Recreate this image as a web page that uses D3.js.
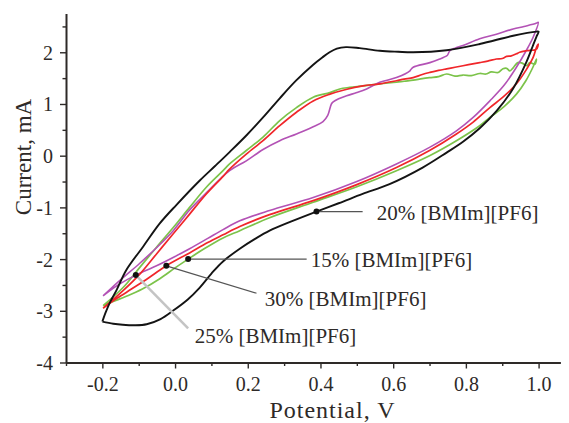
<!DOCTYPE html>
<html>
<head>
<meta charset="utf-8">
<script src="https://cdn.jsdelivr.net/npm/d3@7"></script>
<style>
  html, body { margin: 0; padding: 0; background: #fff; }
  svg { display: block; font-family: "Liberation Serif", "Times New Roman", serif; }
</style>
</head>
<body>
<svg id="chart" width="569" height="423"></svg>
<script>
// Cyclic voltammograms, [potential V, current mA], forward scan then reverse scan.
const cv20 = [
  [-0.200,-3.21],[-0.170,-3.25],[-0.144,-3.27],[-0.110,-3.28],[-0.078,-3.26],[-0.040,-3.16],
  [-0.006,-3.00],[0.035,-2.78],[0.068,-2.55],[0.100,-2.28],[0.131,-2.05],[0.178,-1.80],
  [0.220,-1.61],[0.260,-1.45],[0.320,-1.27],[0.389,-1.08],[0.450,-0.92],[0.516,-0.74],
  [0.590,-0.55],[0.681,-0.23],[0.747,0.06],[0.792,0.27],[0.838,0.53],[0.884,0.86],
  [0.930,1.30],[0.967,1.82],[0.985,2.14],[0.994,2.30],[1.000,2.40],
  [0.994,2.40],[0.930,2.32],[0.838,2.16],[0.747,2.04],[0.655,2.00],[0.614,2.01],
  [0.563,2.03],[0.508,2.08],[0.470,2.10],[0.445,2.07],[0.425,2.00],[0.405,1.90],
  [0.380,1.76],[0.334,1.46],[0.288,1.11],[0.242,0.74],[0.196,0.39],[0.150,0.07],
  [0.110,-0.20],[0.068,-0.48],[0.004,-0.95],[-0.042,-1.31],[-0.088,-1.76],[-0.134,-2.21],
  [-0.161,-2.60],[-0.180,-2.85],[-0.192,-3.05],[-0.200,-3.21]
];
const cv15 = [
  [-0.198,-2.90],[-0.170,-2.82],[-0.134,-2.72],[-0.090,-2.58],[-0.042,-2.38],[0.000,-2.17],
  [0.036,-2.00],[0.080,-1.80],[0.132,-1.59],[0.178,-1.45],[0.260,-1.20],[0.380,-0.90],
  [0.500,-0.60],[0.609,-0.29],[0.700,0.00],[0.774,0.29],[0.838,0.58],[0.866,0.74],
  [0.905,0.95],[0.939,1.19],[0.965,1.45],[0.985,1.72],[0.994,1.87],
  [0.990,1.77],[0.976,1.80],[0.967,1.74],[0.955,1.79],[0.943,1.80],[0.930,1.70],
  [0.921,1.64],[0.912,1.69],[0.902,1.68],[0.889,1.61],[0.870,1.62],[0.855,1.58],
  [0.838,1.59],[0.815,1.55],[0.792,1.56],[0.770,1.54],[0.747,1.58],[0.725,1.53],
  [0.701,1.51],[0.680,1.49],[0.655,1.46],[0.630,1.44],[0.609,1.42],[0.563,1.39],
  [0.517,1.35],[0.480,1.32],[0.453,1.29],[0.426,1.22],[0.380,1.13],[0.334,0.93],
  [0.288,0.68],[0.242,0.36],[0.196,0.10],[0.150,-0.16],[0.132,-0.29],[0.086,-0.61],
  [0.040,-1.00],[-0.005,-1.39],[-0.051,-1.77],[-0.097,-2.16],[-0.143,-2.55],[-0.198,-2.90]
];
const cv30 = [
  [-0.198,-2.95],[-0.160,-2.76],[-0.120,-2.58],[-0.080,-2.40],[-0.024,-2.13],[0.040,-1.88],
  [0.090,-1.68],[0.132,-1.53],[0.178,-1.37],[0.260,-1.14],[0.380,-0.87],[0.500,-0.56],
  [0.609,-0.23],[0.700,0.10],[0.774,0.42],[0.820,0.65],[0.866,0.93],[0.905,1.15],
  [0.939,1.39],[0.965,1.65],[0.985,1.90],[0.994,2.09],
  [0.999,2.16],[0.994,2.06],[0.967,2.03],[0.948,2.00],[0.939,1.97],[0.925,1.93],
  [0.912,1.92],[0.900,1.88],[0.884,1.87],[0.860,1.83],[0.838,1.80],[0.815,1.77],
  [0.792,1.74],[0.770,1.71],[0.747,1.68],[0.725,1.65],[0.701,1.61],[0.680,1.57],
  [0.655,1.51],[0.630,1.48],[0.609,1.45],[0.563,1.39],[0.517,1.35],[0.470,1.28],
  [0.426,1.19],[0.380,1.06],[0.334,0.84],[0.288,0.58],[0.242,0.29],[0.196,0.03],
  [0.150,-0.26],[0.132,-0.40],[0.086,-0.74],[0.040,-1.13],[-0.005,-1.51],[-0.051,-1.90],
  [-0.097,-2.29],[-0.143,-2.61],[-0.198,-2.95]
];
const cv25 = [
  [-0.198,-2.71],[-0.152,-2.48],[-0.108,-2.31],[-0.051,-2.13],[0.000,-1.95],[0.040,-1.80],
  [0.090,-1.60],[0.132,-1.43],[0.178,-1.26],[0.260,-1.06],[0.380,-0.81],[0.500,-0.50],
  [0.609,-0.16],[0.700,0.16],[0.774,0.48],[0.820,0.74],[0.866,1.06],[0.905,1.36],
  [0.939,1.71],[0.965,2.02],[0.985,2.29],[0.999,2.58],
  [0.993,2.56],[0.960,2.50],[0.930,2.45],[0.884,2.35],[0.838,2.26],[0.792,2.13],
  [0.770,2.08],[0.756,2.03],[0.750,1.95],[0.747,1.93],[0.728,1.87],[0.701,1.80],
  [0.655,1.71],[0.648,1.66],[0.646,1.64],[0.609,1.51],[0.563,1.42],[0.527,1.29],
  [0.500,1.22],[0.472,1.16],[0.450,1.10],[0.435,1.04],[0.430,1.00],[0.420,0.78],
  [0.407,0.66],[0.380,0.56],[0.334,0.42],[0.288,0.29],[0.242,0.12],[0.196,-0.10],
  [0.150,-0.29],[0.086,-0.72],[0.040,-1.05],[-0.005,-1.45],[-0.051,-1.78],
  [-0.097,-2.08],[-0.143,-2.36],[-0.175,-2.56],[-0.198,-2.71]
];

// Axis ticks
const xTicks = [-0.2, 0.0, 0.2, 0.4, 0.6, 0.8, 1.0];
const xTickLabels = ["-0.2", "0.0", "0.2", "0.4", "0.6", "0.8", "1.0"];
const xMinorTicks = [-0.3, -0.1, 0.1, 0.3, 0.5, 0.7, 0.9];
const yTicks = [-4, -3, -2, -1, 0, 1, 2];
const yTickLabels = ["-4", "-3", "-2", "-1", "0", "1", "2"];
const yMinorTicks = [-3.5, -2.5, -1.5, -0.5, 0.5, 1.5, 2.5];

// Callouts: name and the point on its curve
const calloutNames = ["20% [BMIm][PF6]", "15% [BMIm][PF6]", "30% [BMIm][PF6]", "25% [BMIm][PF6]"];
const calloutPotential = [0.389, 0.036, -0.024, -0.108];
const calloutCurrent = [-1.08, -2.00, -2.13, -2.31];

const svg = d3.select("#chart");
const x = d3.scaleLinear().domain([-0.3, 1.06]).range([66, 560.4]);
const y = d3.scaleLinear().domain([-4, 2.75]).range([362.5, 13.5]);

const ink = "#2e2a28";

// Curves
const line = d3.line().x(d => x(d[0])).y(d => y(d[1])).curve(d3.curveCatmullRom.alpha(0.5));
const series = [
  { data: cv15, color: "#7cc34a", w: 1.7 },
  { data: cv25, color: "#b352b5", w: 1.6 },
  { data: cv30, color: "#f0262a", w: 1.7 },
  { data: cv20, color: "#141414", w: 1.9 }
];
svg.append("g").selectAll("path").data(series).join("path")
  .attr("d", d => line(d.data))
  .attr("fill", "none")
  .attr("stroke", d => d.color)
  .attr("stroke-width", d => d.w)
  .attr("stroke-linejoin", "round");

// Axes
const axisFont = 20;
const gx = svg.append("g").attr("transform", `translate(0,${y(-4)})`);
gx.call(d3.axisBottom(x).tickValues(xTicks).tickFormat((d, i) => xTickLabels[i]).tickSize(6).tickSizeOuter(0));
gx.append("g").call(d3.axisBottom(x).tickValues(xMinorTicks).tickFormat("").tickSize(3.5).tickSizeOuter(0))
  .select(".domain").remove();
const gy = svg.append("g").attr("transform", `translate(${x(-0.3)},0)`);
gy.call(d3.axisLeft(y).tickValues(yTicks).tickFormat((d, i) => yTickLabels[i]).tickSize(6).tickSizeOuter(0));
gy.append("g").call(d3.axisLeft(y).tickValues(yMinorTicks).tickFormat("").tickSize(3.5).tickSizeOuter(0))
  .select(".domain").remove();

[gx, gy].forEach(g => {
  g.selectAll(".domain").attr("stroke", ink).attr("stroke-width", 2);
  g.selectAll(".tick line").attr("stroke", ink).attr("stroke-width", 1.4);
  g.selectAll(".tick text").attr("fill", ink).attr("font-size", axisFont)
    .attr("font-family", "Liberation Serif, Times New Roman, serif");
});
gx.selectAll(".tick text").attr("y", 21).attr("dy", "0.35em");
gy.selectAll(".tick text").attr("x", -13).attr("dy", "0.35em");

// Axis titles
svg.append("text")
  .attr("x", 332).attr("y", 418)
  .attr("text-anchor", "middle")
  .attr("font-size", 24).attr("fill", ink)
  .attr("textLength", 125).attr("lengthAdjust", "spacing")
  .text("Potential, V");
svg.append("text")
  .attr("transform", `translate(23,157) rotate(-90)`)
  .attr("text-anchor", "middle").attr("dominant-baseline", "central")
  .attr("font-size", 23).attr("fill", ink)
  .text("Current, mA");

// Callouts: leader end and label start, in data units
const leaderEnd = [[0.516, -1.08], [0.362, -2.00], [0.224, -2.66], [0.036, -3.34]];
const labelAt = [[0.555, -1.11], [0.373, -2.02], [0.247, -2.77], [0.054, -3.49]];
const leaderStyle = [
  { c: "#555", w: 1.2 }, { c: "#555", w: 1.2 }, { c: "#555", w: 1.2 }, { c: "#c4c4c4", w: 2.5 }
];
const callouts = calloutNames.map((name, i) => ({
  name, v: calloutPotential[i], c: calloutCurrent[i], end: leaderEnd[i], at: labelAt[i], s: leaderStyle[i]
}));
const gc = svg.append("g");
gc.selectAll("line").data(callouts).join("line")
  .attr("x1", d => x(d.v)).attr("y1", d => y(d.c))
  .attr("x2", d => x(d.end[0])).attr("y2", d => y(d.end[1]))
  .attr("stroke", d => d.s.c).attr("stroke-width", d => d.s.w);
gc.selectAll("circle").data(callouts).join("circle")
  .attr("cx", d => x(d.v)).attr("cy", d => y(d.c)).attr("r", 3)
  .attr("fill", "#111");
gc.selectAll("text").data(callouts).join("text")
  .attr("x", d => x(d.at[0])).attr("y", d => y(d.at[1]))
  .attr("dominant-baseline", "central")
  .attr("font-size", 21).attr("fill", ink)
  .text(d => d.name);
</script>
</body>
</html>
